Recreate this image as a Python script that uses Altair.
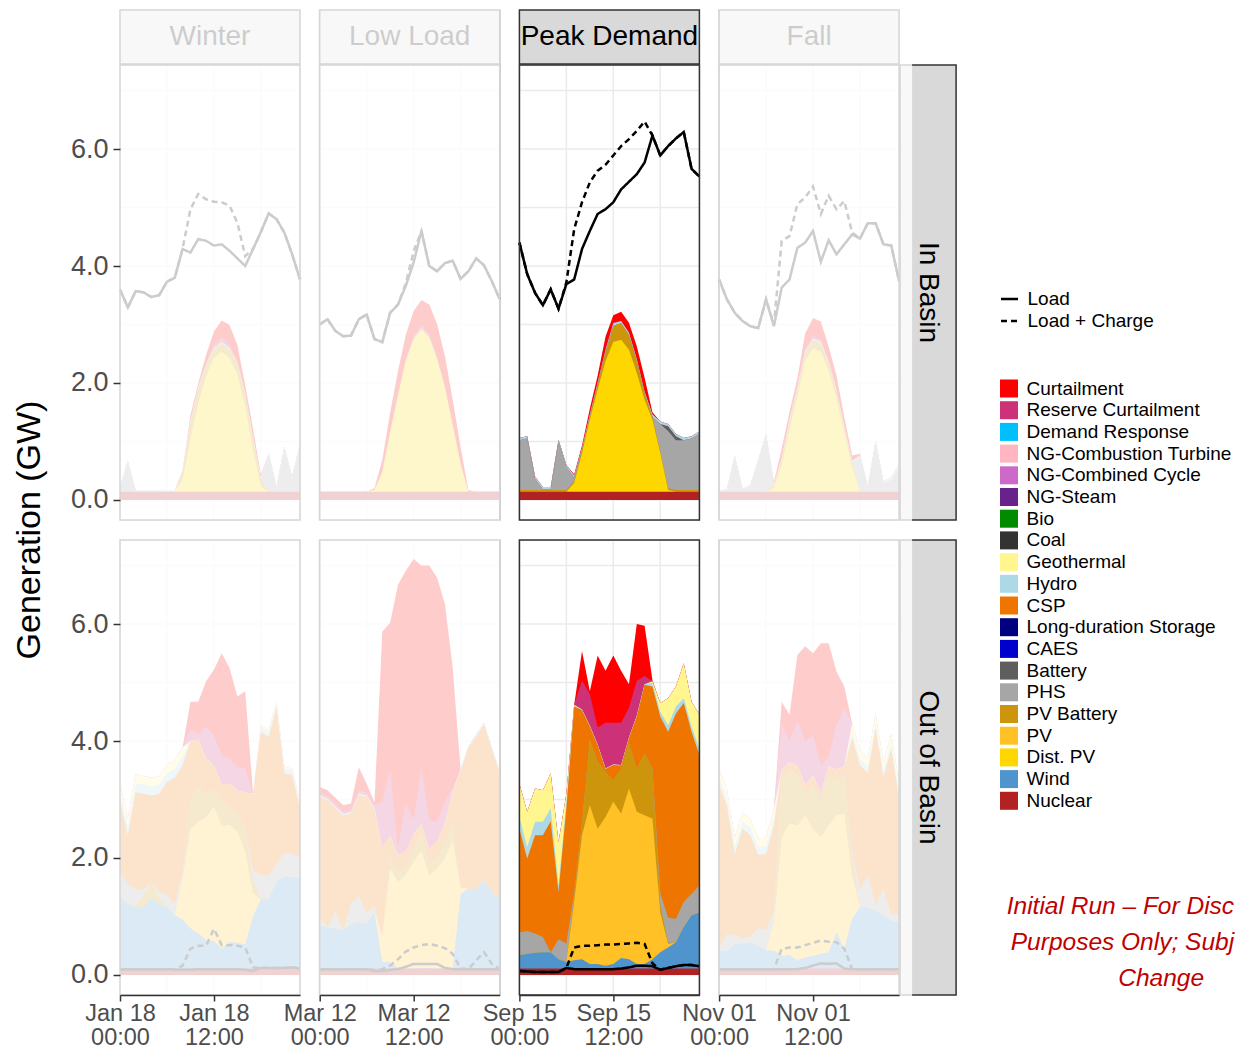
import altair as alt
import pandas as pd

# ---------------- values ----------------
HOURS = list(range(24))
SCENARIOS = ["Winter", "Low Load", "Peak Demand", "Fall"]
DATES = ["Jan 18", "Mar 12", "Sep 15", "Nov 01"]
REGIONS = ["In Basin", "Out of Basin"]
HIGHLIGHT = "Peak Demand"
Y_TICKS = [0, 2, 4, 6]
X_TICKS = [0, 12]
GRID_Y = [0, 1, 2, 3, 4, 5, 6, 7]
GRID_X = [0, 6, 12, 18]
LINE_SERIES = ["Load", "Load + Charge"]
Y_TITLE = "Generation (GW)"
ANNOTATION = ["Initial Run – For Disc", "Purposes Only; Subj", "Change"]

TYPES = ["Curtailment", "Reserve Curtailment", "Demand Response", "NG-Combustion Turbine",
         "NG-Combined Cycle", "NG-Steam", "Bio", "Coal", "Geothermal", "Hydro", "CSP",
         "Long-duration Storage", "CAES", "Battery", "PHS", "PV Battery", "PV", "Dist. PV",
         "Wind", "Nuclear"]
COLORS = ["#FF0000", "#CD3278", "#00BFFF", "#FFB6C1", "#CD69C9", "#68228B", "#008B00", "#333333",
          "#FFF68F", "#ADD8E6", "#EE7600", "#000080", "#0000CD", "#5E5E5E", "#A6A6A6", "#CD950C",
          "#FFC125", "#FFD700", "#4F94CD", "#B22222"]

# ----- In Basin -----
winter_in = {
    "Nuclear": [0.14, 0.14, 0.14, 0.14, 0.14, 0.14, 0.14, 0.14, 0.14, 0.14, 0.14, 0.14, 0.14, 0.14, 0.14, 0.14, 0.14, 0.14, 0.14, 0.14, 0.14, 0.14, 0.14, 0.14],
    "Dist. PV": [0, 0, 0, 0, 0, 0, 0, 0, 0.20, 0.89, 1.52, 1.97, 2.29, 2.39, 2.29, 2.00, 1.46, 0.72, 0.09, 0, 0, 0, 0, 0],
    "PV Battery": [0, 0, 0, 0, 0, 0, 0, 0, 0.15, 0.30, 0.25, 0.20, 0.15, 0.15, 0.15, 0.20, 0.20, 0.20, 0.12, 0, 0, 0, 0, 0],
    "PHS": [0.06, 0.50, 0, 0, 0, 0, 0, 0, 0, 0, 0, 0, 0, 0, 0, 0, 0, 0, 0, 0.63, 0.06, 0.74, 0.23, 0.80],
    "Hydro": [0.03, 0.03, 0.03, 0.03, 0.03, 0.03, 0.03, 0.03, 0.02, 0.02, 0.02, 0.02, 0.02, 0.02, 0.02, 0.02, 0.02, 0.02, 0.03, 0.03, 0.03, 0.03, 0.03, 0.03],
    "Reserve Curtailment": [0, 0, 0, 0, 0, 0, 0, 0, 0, 0, 0, 0, 0.06, 0.08, 0.06, 0, 0, 0, 0, 0, 0, 0, 0, 0],
    "Curtailment": [0, 0, 0, 0, 0, 0, 0, 0, 0, 0.10, 0.06, 0.15, 0.22, 0.29, 0.33, 0.29, 0.14, 0.14, 0.05, 0, 0, 0, 0, 0],
}
winter_in_load = [3.60, 3.29, 3.57, 3.55, 3.47, 3.50, 3.73, 3.80, 4.29, 4.23, 4.46, 4.43, 4.35, 4.37, 4.26, 4.13, 4.00, 4.29, 4.58, 4.90, 4.80, 4.57, 4.20, 3.77]
winter_in_charge = [3.60, 3.29, 3.57, 3.55, 3.47, 3.50, 3.73, 3.80, 4.30, 4.97, 5.23, 5.14, 5.10, 5.09, 5.03, 4.74, 4.17, 4.29, 4.58, 4.90, 4.80, 4.57, 4.20, 3.77]

low_in = {
    "Nuclear": [0.14, 0.14, 0.14, 0.14, 0.14, 0.14, 0.14, 0.14, 0.14, 0.14, 0.14, 0.14, 0.14, 0.14, 0.14, 0.14, 0.14, 0.14, 0.14, 0.14, 0.14, 0.14, 0.14, 0.14],
    "Dist. PV": [0, 0, 0, 0, 0, 0, 0, 0.03, 0.32, 1.00, 1.63, 2.23, 2.60, 2.77, 2.63, 2.26, 1.77, 1.12, 0.46, 0, 0, 0, 0, 0],
    "PV Battery": [0, 0, 0, 0, 0, 0, 0, 0, 0.03, 0.03, 0.03, 0.03, 0.03, 0.03, 0.03, 0.03, 0.03, 0.03, 0.03, 0, 0, 0, 0, 0],
    "Reserve Curtailment": [0, 0, 0, 0, 0, 0, 0, 0, 0, 0, 0, 0, 0.04, 0.05, 0.04, 0, 0, 0, 0, 0, 0, 0, 0, 0],
    "Curtailment": [0, 0, 0, 0, 0, 0, 0, 0.03, 0.20, 0.32, 0.40, 0.42, 0.42, 0.43, 0.50, 0.58, 0.52, 0.42, 0.28, 0.03, 0, 0, 0, 0],
}
low_in_load = [3.00, 3.09, 2.89, 2.80, 2.81, 3.09, 3.17, 2.75, 2.70, 3.20, 3.34, 3.66, 4.06, 4.60, 4.00, 3.91, 4.05, 4.09, 3.78, 3.91, 4.13, 4.01, 3.74, 3.43]
low_in_charge = [3.00, 3.09, 2.89, 2.80, 2.81, 3.09, 3.17, 2.75, 2.70, 3.20, 3.34, 3.70, 4.25, 4.60, 4.00, 3.91, 4.05, 4.09, 3.78, 3.91, 4.13, 4.01, 3.74, 3.43]

peak_in = {
    "Nuclear": [0.14, 0.14, 0.14, 0.14, 0.14, 0.14, 0.14, 0.14, 0.14, 0.14, 0.14, 0.14, 0.14, 0.14, 0.14, 0.14, 0.14, 0.14, 0.14, 0.14, 0.14, 0.14, 0.14, 0.14],
    "Dist. PV": [0, 0, 0, 0, 0, 0, 0, 0.15, 0.66, 1.23, 1.75, 2.23, 2.56, 2.60, 2.43, 2.03, 1.57, 1.23, 0.66, 0.03, 0, 0, 0, 0],
    "PV Battery": [0.03, 0.03, 0.03, 0.03, 0.03, 0.03, 0.03, 0.03, 0.05, 0.05, 0.08, 0.15, 0.28, 0.28, 0.25, 0.20, 0.10, 0.05, 0.03, 0.03, 0.03, 0.03, 0.03, 0.03],
    "PHS": [0.85, 0.88, 0.19, 0.01, 0.01, 0.82, 0.39, 0.06, 0, 0, 0, 0, 0, 0, 0, 0, 0, 0, 0.47, 0.98, 0.85, 0.85, 0.88, 0.96],
    "Battery": [0, 0, 0, 0, 0, 0, 0, 0, 0, 0, 0, 0, 0, 0, 0, 0, 0, 0, 0, 0.08, 0.07, 0, 0, 0],
    "Hydro": [0.04, 0.04, 0.04, 0.04, 0.04, 0.04, 0.04, 0.04, 0.04, 0.04, 0.04, 0.04, 0.04, 0.04, 0.04, 0.04, 0.04, 0.04, 0.04, 0.04, 0.04, 0.04, 0.04, 0.04],
    "Reserve Curtailment": [0, 0, 0, 0, 0, 0, 0, 0, 0, 0, 0, 0.03, 0.02, 0, 0, 0, 0, 0, 0, 0, 0, 0, 0, 0],
    "Curtailment": [0, 0, 0, 0, 0, 0, 0, 0.02, 0.04, 0.10, 0.12, 0.20, 0.12, 0.16, 0.17, 0.22, 0.24, 0.04, 0, 0, 0, 0, 0, 0],
}
peak_in_load = [4.40, 3.86, 3.54, 3.33, 3.60, 3.27, 3.69, 3.77, 4.29, 4.60, 4.89, 4.97, 5.09, 5.31, 5.44, 5.57, 5.77, 6.23, 5.89, 6.05, 6.18, 6.29, 5.66, 5.53]
peak_in_charge = [4.40, 3.86, 3.54, 3.33, 3.60, 3.27, 3.72, 4.63, 5.09, 5.43, 5.63, 5.73, 5.89, 6.05, 6.17, 6.31, 6.47, 6.23, 5.89, 6.05, 6.18, 6.29, 5.66, 5.53]

fall_in = {
    "Nuclear": [0.14, 0.14, 0.14, 0.14, 0.14, 0.14, 0.14, 0.14, 0.14, 0.14, 0.14, 0.14, 0.14, 0.14, 0.14, 0.14, 0.14, 0.14, 0.14, 0.14, 0.14, 0.14, 0.14, 0.14],
    "Dist. PV": [0, 0, 0, 0, 0, 0, 0, 0.06, 0.46, 1.06, 1.63, 2.23, 2.45, 2.40, 2.06, 1.60, 1.00, 0.43, 0, 0, 0, 0, 0, 0],
    "PV Battery": [0, 0, 0, 0, 0, 0, 0, 0.05, 0.10, 0.15, 0.15, 0.15, 0.15, 0.15, 0.15, 0.12, 0.10, 0.08, 0, 0, 0, 0, 0, 0],
    "PHS": [0, 0.03, 0.60, 0.03, 0.10, 0.53, 0.97, 0, 0, 0, 0, 0, 0, 0, 0, 0, 0, 0, 0.60, 0.08, 0.85, 0.15, 0.20, 0.43],
    "Hydro": [0.02, 0.02, 0.02, 0.02, 0.02, 0.02, 0.02, 0.02, 0.02, 0.02, 0.02, 0.02, 0.02, 0.02, 0.02, 0.02, 0.02, 0.02, 0.02, 0.02, 0.02, 0.03, 0.05, 0.05],
    "Reserve Curtailment": [0, 0, 0, 0, 0, 0, 0, 0, 0, 0, 0, 0.04, 0.05, 0.03, 0, 0, 0, 0, 0, 0, 0, 0, 0, 0],
    "Curtailment": [0, 0, 0, 0, 0, 0, 0, 0.04, 0.16, 0.14, 0.14, 0.27, 0.30, 0.31, 0.25, 0.25, 0.16, 0.09, 0.03, 0, 0, 0, 0, 0],
}
fall_in_load = [3.77, 3.43, 3.20, 3.06, 2.97, 2.94, 3.43, 2.97, 3.63, 3.77, 4.31, 4.40, 4.60, 4.07, 4.44, 4.20, 4.37, 4.54, 4.47, 4.73, 4.73, 4.37, 4.35, 3.74]
fall_in_charge = [3.77, 3.43, 3.20, 3.06, 2.97, 2.94, 3.43, 3.00, 4.43, 4.51, 5.06, 5.17, 5.36, 4.89, 5.20, 4.97, 5.11, 4.57, 4.47, 4.73, 4.73, 4.37, 4.35, 3.74]

# ----- Out of Basin -----
winter_out = {
    "Nuclear": [0.11, 0.11, 0.11, 0.11, 0.11, 0.11, 0.11, 0.11, 0.11, 0.11, 0.11, 0.11, 0.11, 0.11, 0.11, 0.11, 0.11, 0.11, 0.11, 0.11, 0.11, 0.11, 0.11, 0.11],
    "Wind": [1.22, 1.11, 1.05, 1.05, 1.22, 1.11, 1.05, 0.91, 0.84, 0.69, 0.61, 0.49, 0.47, 0.34, 0.46, 0.44, 0.41, 0.89, 1.19, 1.19, 1.49, 1.57, 1.57, 1.54],
    "PV": [0, 0, 0, 0, 0, 0, 0, 0, 0.70, 1.70, 1.90, 2.10, 2.30, 2.10, 2.00, 1.90, 1.60, 0.40, 0, 0, 0, 0, 0, 0],
    "PV Battery": [0, 0, 0, 0.20, 0.25, 0.10, 0, 0, 0, 0.50, 0.60, 0.40, 0.30, 0.40, 0.30, 0.30, 0.40, 0.20, 0, 0, 0, 0, 0, 0],
    "PHS": [0.43, 0.34, 0.30, 0.10, 0, 0.10, 0.20, 0.20, 0.10, 0, 0, 0, 0, 0, 0, 0, 0, 0.20, 0.40, 0.40, 0.30, 0.40, 0.40, 0.35],
    "CSP": [1.20, 0.83, 1.67, 1.64, 1.49, 1.68, 1.94, 2.15, 1.84, 1.00, 0.80, 0.60, 0.40, 0.30, 0.40, 0.40, 0.60, 1.30, 2.46, 2.37, 2.66, 1.37, 1.34, 0.85],
    "Hydro": [0.15, 0.15, 0.15, 0.15, 0.15, 0.15, 0.15, 0.15, 0.15, 0, 0, 0, 0, 0, 0, 0, 0, 0, 0.08, 0.08, 0.08, 0.08, 0.08, 0.08],
    "Geothermal": [0.15, 0.15, 0.15, 0.15, 0.15, 0.15, 0.15, 0.15, 0.15, 0, 0, 0, 0, 0, 0, 0, 0, 0, 0.03, 0.03, 0.03, 0.03, 0.03, 0.03],
    "Reserve Curtailment": [0, 0, 0, 0, 0, 0, 0, 0, 0, 0.20, 0.10, 0.55, 0.52, 0.51, 0.43, 0.41, 0.41, 0, 0, 0, 0, 0, 0, 0],
    "Curtailment": [0, 0, 0, 0, 0, 0, 0, 0, 0, 0.47, 0.55, 0.77, 1.12, 1.74, 1.55, 1.20, 1.32, 0, 0, 0, 0, 0, 0, 0],
}
winter_out_load = [0.10, 0.10, 0.10, 0.10, 0.10, 0.10, 0.10, 0.09, 0.09, 0.09, 0.10, 0.10, 0.10, 0.10, 0.10, 0.10, 0.09, 0.07, 0.12, 0.12, 0.12, 0.12, 0.13, 0.11]
winter_out_charge = [0.10, 0.10, 0.10, 0.10, 0.10, 0.10, 0.10, 0.09, 0.16, 0.45, 0.50, 0.50, 0.79, 0.51, 0.51, 0.50, 0.47, 0.13, 0.12, 0.12, 0.12, 0.12, 0.13, 0.11]

low_out = {
    "Nuclear": [0.11, 0.11, 0.11, 0.11, 0.11, 0.11, 0.11, 0.11, 0.11, 0.11, 0.11, 0.11, 0.11, 0.11, 0.11, 0.11, 0.11, 0.11, 0.11, 0.11, 0.11, 0.11, 0.11, 0.11],
    "Wind": [0.74, 0.71, 0.68, 0.65, 0.76, 0.79, 0.76, 0.96, 0.11, 0.11, 0.02, 0, 0, 0.01, 0.01, 0, 0, 0.01, 1.28, 1.36, 1.36, 1.51, 1.31, 1.19],
    "PV": [0, 0, 0, 0, 0, 0, 0, 0, 0.45, 1.60, 1.46, 1.60, 1.83, 2.01, 1.58, 1.71, 1.89, 2.18, 0.10, 0, 0, 0, 0, 0],
    "PV Battery": [0, 0, 0, 0, 0, 0, 0, 0, 0, 0.20, 0.20, 0.15, 0.20, 0.30, 0.20, 0.20, 0.25, 0.30, 0, 0, 0, 0, 0, 0],
    "PHS": [0.13, 0, 0.30, 0, 0.35, 0.45, 0.20, 0.10, 0, 0, 0, 0, 0, 0, 0, 0, 0, 0, 0, 0, 0, 0, 0, 0],
    "CSP": [2.07, 2.17, 1.77, 1.97, 1.54, 1.73, 1.98, 1.66, 1.51, 0.36, 0.26, 0.26, 0.26, 0.16, 0.26, 0.26, 0.36, 0.56, 1.99, 2.41, 2.61, 2.66, 2.43, 2.15],
    "Hydro": [0.02, 0.02, 0.02, 0.02, 0.02, 0.02, 0.02, 0.02, 0, 0, 0, 0, 0, 0, 0, 0, 0, 0, 0.03, 0.03, 0.03, 0.03, 0.03, 0.03],
    "Reserve Curtailment": [0.05, 0.05, 0.05, 0.05, 0.05, 0.05, 0.05, 0.05, 0.78, 1.12, 0.11, 0.82, 0.26, 0.94, 0.49, 0.34, 0.36, 0.03, 0, 0, 0, 0, 0, 0],
    "Curtailment": [0.10, 0.10, 0.10, 0.10, 0.10, 0.40, 0.15, 0.05, 2.91, 2.52, 4.51, 3.97, 4.45, 3.47, 4.35, 4.17, 3.37, 2.06, 0, 0, 0, 0, 0, 0],
}
low_out_load = [0.10, 0.10, 0.10, 0.10, 0.10, 0.10, 0.10, 0.07, 0.07, 0.09, 0.10, 0.14, 0.19, 0.19, 0.19, 0.19, 0.12, 0.10, 0.10, 0.10, 0.10, 0.10, 0.10, 0.10]
low_out_charge = [0.10, 0.10, 0.10, 0.10, 0.10, 0.10, 0.10, 0.08, 0.10, 0.16, 0.27, 0.40, 0.47, 0.51, 0.53, 0.50, 0.46, 0.36, 0.11, 0.10, 0.25, 0.39, 0.19, 0.10]

peak_out = {
    "Nuclear": [0.11, 0.11, 0.11, 0.11, 0.11, 0.11, 0.11, 0.11, 0.11, 0.11, 0.11, 0.11, 0.11, 0.11, 0.11, 0.11, 0.11, 0.11, 0.11, 0.11, 0.11, 0.11, 0.11, 0.11],
    "Wind": [0.23, 0.25, 0.27, 0.28, 0.28, 0.16, 0.11, 0.14, 0.16, 0.08, 0.08, 0.05, 0.08, 0.18, 0.16, 0.08, 0.08, 0.16, 0.28, 0.36, 0.45, 0.71, 0.91, 0.96],
    "PV": [0, 0, 0, 0, 0, 0, 0, 1.00, 2.12, 2.71, 2.31, 2.54, 2.77, 2.47, 2.92, 2.60, 2.54, 2.40, 0.68, 0.06, 0, 0, 0, 0],
    "PV Battery": [0, 0, 0, 0, 0, 0, 0, 0.10, 0.21, 1.12, 1.15, 0.77, 0.37, 0.77, 0.77, 0.74, 1.06, 0.86, 0.13, 0.02, 0, 0, 0, 0],
    "PHS": [0.39, 0.39, 0.33, 0.26, 0, 0.34, 0.32, 0.05, 0, 0, 0, 0, 0, 0, 0, 0, 0, 0, 0.20, 0.43, 0.40, 0.43, 0.37, 0.46],
    "CSP": [1.77, 1.24, 1.68, 1.74, 2.24, 0.81, 2.31, 3.19, 1.93, 0.23, 0.28, 0.05, 0.26, 0.05, 0.09, 0.89, 1.17, 1.40, 3.02, 3.18, 3.51, 3.40, 2.77, 2.23],
    "Hydro": [0.20, 0.20, 0.23, 0.23, 0.22, 0.11, 0.10, 0.02, 0.01, 0.01, 0.01, 0.01, 0.01, 0.01, 0.01, 0.01, 0.01, 0.06, 0.08, 0.11, 0.12, 0.08, 0.09, 0.11],
    "Geothermal": [0.57, 0.60, 0.57, 0.54, 0.60, 0.74, 0.15, 0.01, 0, 0, 0, 0, 0, 0, 0, 0, 0, 0.03, 0.15, 0.46, 0.34, 0.60, 0.42, 0.58],
    "Reserve Curtailment": [0, 0, 0, 0, 0, 0, 0, 0, 0.49, 0.54, 0.29, 0.78, 0.71, 0.72, 0.51, 0.60, 0.14, 0, 0, 0, 0, 0, 0, 0],
    "Curtailment": [0, 0, 0, 0, 0, 0, 0, 0, 0.51, 0.05, 1.23, 0.89, 1.15, 0.89, 0.40, 0.97, 0.86, 0.02, 0, 0, 0, 0, 0, 0],
}
peak_out_load = [0.07, 0.06, 0.05, 0.05, 0.05, 0.05, 0.12, 0.10, 0.10, 0.10, 0.10, 0.10, 0.10, 0.11, 0.13, 0.16, 0.16, 0.15, 0.09, 0.12, 0.15, 0.17, 0.17, 0.15]
peak_out_charge = [0.07, 0.06, 0.05, 0.05, 0.05, 0.05, 0.12, 0.47, 0.50, 0.50, 0.51, 0.52, 0.52, 0.53, 0.54, 0.55, 0.53, 0.20, 0.09, 0.12, 0.15, 0.17, 0.17, 0.15]

fall_out = {
    "Nuclear": [0.11, 0.11, 0.11, 0.11, 0.11, 0.11, 0.11, 0.11, 0.11, 0.11, 0.11, 0.11, 0.11, 0.11, 0.11, 0.11, 0.11, 0.11, 0.11, 0.11, 0.11, 0.11, 0.11, 0.11],
    "Wind": [0.31, 0.29, 0.42, 0.42, 0.45, 0.39, 0.31, 0.31, 0.22, 0.23, 0.14, 0.19, 0.22, 0.25, 0.28, 0.62, 0.34, 0.85, 1.05, 1.05, 0.99, 0.91, 0.82, 0.79],
    "PV": [0, 0, 0, 0, 0, 0, 0, 0.48, 2.03, 2.25, 2.31, 2.43, 2.17, 2.00, 2.17, 2.00, 2.31, 0.76, 0, 0, 0, 0, 0, 0],
    "PV Battery": [0, 0, 0, 0, 0, 0, 0, 0, 1.00, 0.90, 0.86, 0.37, 0.75, 0.60, 0.86, 0.63, 0.66, 0.30, 0, 0, 0, 0, 0, 0],
    "PHS": [0.05, 0.30, 0.15, 0.10, 0.10, 0.30, 0.35, 0.20, 0, 0, 0, 0, 0, 0, 0, 0, 0, 0.10, 0.30, 0.55, 0.10, 0.45, 0.10, 0.15],
    "CSP": [2.78, 2.20, 1.39, 1.87, 1.73, 1.25, 1.30, 1.46, 0.15, 0.15, 0.15, 0.15, 0.15, 0.15, 0.15, 0.15, 0.15, 1.93, 2.13, 1.74, 3.02, 1.92, 2.84, 1.97],
    "Hydro": [0.13, 0.13, 0.13, 0.13, 0.13, 0.13, 0.13, 0.13, 0, 0, 0, 0, 0, 0, 0, 0, 0, 0.10, 0.10, 0.10, 0.10, 0.10, 0.10, 0.10],
    "Geothermal": [0.15, 0.15, 0.15, 0.15, 0.15, 0.15, 0.15, 0.15, 0, 0, 0, 0, 0, 0, 0, 0, 0, 0.15, 0.15, 0.15, 0.15, 0.15, 0.15, 0.15],
    "Reserve Curtailment": [0, 0, 0, 0, 0, 0, 0, 0, 0.79, 0.35, 0.79, 0.75, 0.70, 0.48, 0.16, 0.76, 0.99, 0, 0, 0, 0, 0, 0, 0],
    "Curtailment": [0, 0, 0, 0, 0, 0, 0, 0, 0.37, 0.46, 1.11, 1.62, 1.40, 2.08, 1.94, 0.92, 0.37, 0, 0, 0, 0, 0, 0, 0],
}
fall_out_load = [0.10, 0.10, 0.10, 0.10, 0.10, 0.10, 0.10, 0.10, 0.10, 0.10, 0.10, 0.12, 0.16, 0.20, 0.19, 0.20, 0.11, 0.10, 0.10, 0.10, 0.10, 0.10, 0.10, 0.10]
fall_out_charge = [0.10, 0.10, 0.10, 0.10, 0.10, 0.10, 0.10, 0.10, 0.45, 0.47, 0.47, 0.51, 0.55, 0.59, 0.57, 0.56, 0.45, 0.10, 0.10, 0.10, 0.10, 0.10, 0.10, 0.10]

PANELS = [
    (winter_in, winter_in_load, winter_in_charge),
    (low_in, low_in_load, low_in_charge),
    (peak_in, peak_in_load, peak_in_charge),
    (fall_in, fall_in_load, fall_in_charge),
    (winter_out, winter_out_load, winter_out_charge),
    (low_out, low_out_load, low_out_charge),
    (peak_out, peak_out_load, peak_out_charge),
    (fall_out, fall_out_load, fall_out_charge),
]

# ---------------- chart construction ----------------
FONT = "Liberation Sans"
W, H = 180, 455
STACK = TYPES[::-1]  # bottom -> top
ONE = pd.DataFrame({"k": [0]})

color_scale = alt.Scale(domain=TYPES, range=COLORS)
dash_scale = alt.Scale(domain=LINE_SERIES, range=[[1, 0], [6, 4]])
x_scale = alt.Scale(domain=[0, 23], nice=False, zero=False)
y_scale = alt.Scale(domain=[-0.342, 7.436], nice=False, zero=False)

color_legend = alt.Legend(title=None, orient="none", legendX=879.5, legendY=314, direction="vertical",
                          symbolType="square", symbolSize=324, symbolStrokeWidth=0, symbolOpacity=1,
                          labelFontSize=19, labelFont=FONT, labelColor="black", labelOffset=8,
                          rowPadding=1.7, padding=0, labelLimit=400)
dash_legend = alt.Legend(title=None, orient="none", legendX=879.5, legendY=224, direction="vertical",
                         symbolType="stroke", symbolSize=289, symbolStrokeWidth=2.5,
                         symbolStrokeColor="black", symbolOpacity=1,
                         labelFontSize=19, labelFont=FONT, labelColor="black", labelOffset=8,
                         rowPadding=2, padding=0, labelLimit=400)


def stacked_frame(gen):
    """Stack the generation series (bottom -> top) into cumulative tops per hour."""
    rows = []
    cum = [0.0] * 24
    for t in STACK:
        if t not in gen:
            continue
        vals = gen[t]
        assert len(vals) == 24, t
        for h in HOURS:
            cum[h] += vals[h]
            rows.append({"hour": h, "type": t, "top": round(cum[h], 4)})
    return pd.DataFrame(rows)


def line_frame(load, charge):
    rows = []
    for name, vals in zip(LINE_SERIES, [load, charge]):
        assert len(vals) == 24
        for h, v in zip(HOURS, vals):
            rows.append({"hour": h, "series": name, "value": v})
    return pd.DataFrame(rows)


def box(x, x2, y, y2, **kw):
    return alt.Chart(ONE).mark_rect(**kw).encode(
        x=alt.value(x), x2=alt.value(x2), y=alt.value(y), y2=alt.value(y2))


def label(text, x, y, **kw):
    return alt.Chart(ONE).mark_text(text=text, font=FONT, **kw).encode(x=alt.value(x), y=alt.value(y))


def panel(idx):
    gen, load, charge = PANELS[idx]
    row, col = divmod(idx, 4)
    scenario = SCENARIOS[col]
    faded = scenario != HIGHLIGHT

    if row == 1:
        d = DATES[col]
        xaxis = alt.Axis(values=X_TICKS, title=None, grid=False, zindex=1,
                         labelExpr=f"datum.value == 0 ? ['{d}', '00:00'] : ['{d}', '12:00']",
                         labelFontSize=23.5, labelLineHeight=24, labelColor="#4D4D4D", labelFont=FONT,
                         labelFlush=False, labelOverlap=False, labelPadding=0,
                         tickColor="#333333", tickSize=6, tickWidth=1.5,
                         domainColor="#333333", domainWidth=1.5)
    else:
        xaxis = None
    if col == 0:
        yaxis = alt.Axis(values=Y_TICKS, format=".1f", title=None, grid=False, zindex=1,
                         labelFontSize=27, labelColor="#4D4D4D", labelFont=FONT, labelPadding=5,
                         tickColor="#333333", tickSize=7, tickWidth=1.5, domain=False)
    else:
        yaxis = None

    X = lambda f: alt.X(f, scale=x_scale, axis=xaxis, title=None)
    Y = lambda f: alt.Y(f, scale=y_scale, axis=yaxis, title=None)

    grid_x = alt.Chart(pd.DataFrame({"g": GRID_X})).mark_rule(color="#EBEBEB", strokeWidth=1.5).encode(x=X("g:Q"))
    grid_y = alt.Chart(pd.DataFrame({"g": GRID_Y})).mark_rule(color="#EBEBEB", strokeWidth=1.5).encode(y=Y("g:Q"))

    stacked = stacked_frame(gen)
    area_layers = []
    # paint from the top of the stack downwards: each band runs from 0 to its cumulative top,
    # so the band below covers the one above without anti-aliasing seams
    for t in TYPES:
        if t not in gen:
            continue
        area_layers.append(
            alt.Chart(stacked[stacked["type"] == t]).mark_area(interpolate="linear", strokeWidth=0).encode(
                x=X("hour:Q"),
                y=Y("top:Q"),
                y2=alt.datum(0),
                color=alt.Color("type:N", scale=color_scale, legend=color_legend),
            )
        )
    lines = alt.Chart(line_frame(load, charge)).mark_line(color="black", strokeWidth=2.5).encode(
        x=X("hour:Q"),
        y=Y("value:Q"),
        strokeDash=alt.StrokeDash("series:N", scale=dash_scale, legend=dash_legend),
    )
    layers = [grid_x, grid_y] + area_layers + [lines,
              box(0, W, 0, H, fillOpacity=0, stroke="#333333", strokeWidth=1.5)]

    if row == 0:
        layers += [box(0, W, -55, -1, fill="#D9D9D9", stroke="#333333", strokeWidth=1.5),
                   label(scenario, W / 2, -28, fontSize=28, color="black", baseline="middle", align="center")]
    if col == 3:
        layers += [box(W + 1, W + 57, 0, H, fill="#D9D9D9", stroke="#333333", strokeWidth=1.5),
                   label(REGIONS[row], W + 29, H / 2, fontSize=28, color="black", angle=90,
                         baseline="middle", align="center")]
    if faded:
        right = W + 13 if col == 3 else W + 1
        top = -56 if row == 0 else -1
        layers.append(box(-1, right, top, H + 1, fill="white", opacity=0.8))
    if row == 0 and col == 0:
        layers.append(label(Y_TITLE, -90, H + 10, fontSize=34, color="black", angle=270,
                            baseline="middle", align="center"))
    if row == 1 and col == 3:
        layers += [
            label(ANNOTATION[0], 515, 367, fontSize=24.5, fontStyle="italic", color="#C00000", align="right", baseline="middle"),
            label(ANNOTATION[1], 515, 403, fontSize=24.5, fontStyle="italic", color="#C00000", align="right", baseline="middle"),
            label(ANNOTATION[2], 442, 439, fontSize=24.5, fontStyle="italic", color="#C00000", align="center", baseline="middle"),
        ]
    return alt.layer(*layers).properties(width=W, height=H)


chart = alt.concat(*[panel(i) for i in range(8)], columns=4,
                   spacing={"row": 20, "column": 19.7}, bounds="flush").properties(
    padding={"left": 4, "top": 0, "right": 0, "bottom": 0}
).configure_view(stroke=None).configure(font=FONT)

chart.save("out.html", embed_options={"renderer": "svg", "actions": False})
